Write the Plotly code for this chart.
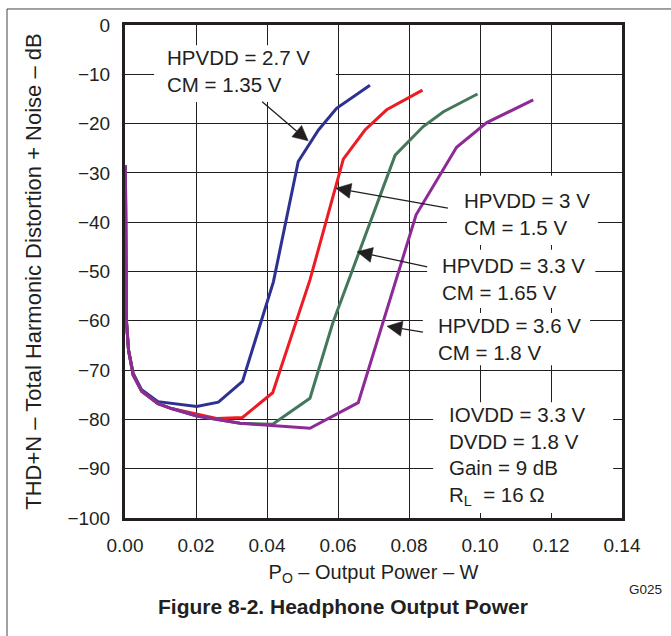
import plotly.graph_objects as go

# output power (W) and THD+N (dB)
blue_x = [0.0001, 0.0002, 0.0004, 0.001, 0.0023, 0.0047, 0.0093, 0.0202, 0.0263, 0.0331, 0.0418, 0.0488, 0.0545, 0.0596, 0.069]
blue_y = [-28.5, -50, -60, -66, -70.6, -74, -76.4, -77.4, -76.5, -72.3, -52.1, -27.7, -21.3, -16.9, -12.2]

red_x = [0.0001, 0.0002, 0.0004, 0.001, 0.0023, 0.0047, 0.0093, 0.0131, 0.0202, 0.0258, 0.0331, 0.0416, 0.0521, 0.0615, 0.0676, 0.0737, 0.0838]
red_y = [-28.5, -50, -60, -66, -71, -74.3, -76.8, -77.8, -78.9, -79.8, -79.6, -74.6, -51.7, -27.2, -21.3, -17.2, -13.2]

green_x = [0.0001, 0.0002, 0.0004, 0.001, 0.0023, 0.0047, 0.0093, 0.0131, 0.0202, 0.0324, 0.0416, 0.0521, 0.0585, 0.0761, 0.084, 0.0897, 0.0993]
green_y = [-28.5, -50, -60, -66, -71, -74.3, -76.8, -77.8, -79.3, -80.8, -81.0, -75.7, -60.5, -26.4, -20.6, -17.6, -14.0]

purple_x = [0.0001, 0.0002, 0.0004, 0.001, 0.0023, 0.0047, 0.0093, 0.0131, 0.0202, 0.0324, 0.0416, 0.0521, 0.0657, 0.082, 0.0934, 0.1019, 0.115]
purple_y = [-28.5, -50, -60, -66, -71, -74.3, -76.8, -77.8, -79.3, -80.8, -81.2, -81.8, -76.6, -38.5, -24.8, -19.8, -15.2]

x_ticks = [0.0, 0.02, 0.04, 0.06, 0.08, 0.10, 0.12, 0.14]
y_ticks = [0, -10, -20, -30, -40, -50, -60, -70, -80, -90, -100]

ink = '#231f20'
font = 'Liberation Sans, Arial, sans-serif'

fig = go.Figure()
for xs, ys, col in [(blue_x, blue_y, '#2e3192'), (red_x, red_y, '#ed1c24'),
                    (green_x, green_y, '#44785a'), (purple_x, purple_y, '#8e2a96')]:
    fig.add_trace(go.Scatter(x=xs, y=ys, mode='lines', line={'color': col, 'width': 3},
                             showlegend=False, hoverinfo='skip'))

# outer frame of the figure (only left and top edges fall inside the page)
fig.add_shape(type='rect', xref='paper', yref='paper', x0=-0.2374, x1=1.3, y0=-0.4, y1=1.0325,
              line={'color': '#444444', 'width': 1}, fillcolor='rgba(0,0,0,0)', layer='below')

# white boxes behind the labels (they break the grid like the original)
boxes = [
    (0.0082, 0.0594, -4.1, -15.6),
    (0.0907, 0.1332, -30.6, -44.6),
    (0.0851, 0.1325, -45.6, -57.4),
    (0.0839, 0.1310, -58.4, -69.0),
    (0.0868, 0.1375, -76.5, -99.0),
]
for x0, x1, y0, y1 in boxes:
    fig.add_shape(type='rect', xref='x', yref='y', x0=x0, x1=x1, y0=y0, y1=y1,
                  fillcolor='white', line={'width': 0}, layer='above')

labels = [
    (0.0113, -9.3, 'HPVDD = 2.7 V<br>CM = 1.35 V'),
    (0.0949, -38.3, 'HPVDD = 3 V<br>CM = 1.5 V'),
    (0.0887, -51.5, 'HPVDD = 3.3 V<br>CM = 1.65 V'),
    (0.0876, -63.7, 'HPVDD = 3.6 V<br>CM = 1.8 V'),
    (0.0907, -87.4, 'IOVDD = 3.3 V<br>DVDD = 1.8 V<br>Gain = 9 dB<br>R<sub>L</sub>  = 16 Ω'),
]
for x, y, t in labels:
    fig.add_annotation(x=x, y=y, xref='x', yref='y', text=t, showarrow=False,
                       xanchor='left', yanchor='middle', align='left',
                       font={'family': font, 'size': 20.5, 'color': ink})

# pointer arrows: anchored at the tip (data), tail offset in pixels (y up)
arrows = [
    (0.0516, -23.5, -46, 39),
    (0.0594, -33.1, 112, -20),
    (0.0654, -46.0, 70, -15),
    (0.0738, -61.1, 36, -6),
]
head_len, head_half = 15, 7.5
for tx, ty, dx, dy in arrows:
    n = (dx ** 2 + dy ** 2) ** 0.5
    ux, uy = dx / n, dy / n
    bx, by = ux * head_len, uy * head_len
    fig.add_shape(type='line', xref='x', yref='y', xsizemode='pixel', ysizemode='pixel',
                  xanchor=tx, yanchor=ty, x0=bx, y0=by, x1=dx, y1=dy,
                  line={'color': ink, 'width': 1.3}, layer='above')
    p1 = (bx - uy * head_half, by + ux * head_half)
    p2 = (bx + uy * head_half, by - ux * head_half)
    fig.add_shape(type='path', xref='x', yref='y', xsizemode='pixel', ysizemode='pixel',
                  xanchor=tx, yanchor=ty,
                  path=f'M 0 0 L {p1[0]:.2f} {p1[1]:.2f} L {p2[0]:.2f} {p2[1]:.2f} Z',
                  fillcolor=ink, line={'color': ink, 'width': 0.5}, layer='above')

fig.add_annotation(x=0.4386, y=-0.1805, xref='paper', yref='paper', showarrow=False,
                   text='<b>Figure 8-2. Headphone Output Power</b>',
                   font={'family': font, 'size': 21, 'color': ink}, xanchor='center', yanchor='middle')
fig.add_annotation(x=1.047, y=-0.146, xref='paper', yref='paper', showarrow=False, text='G025',
                   font={'family': font, 'size': 13.5, 'color': ink}, xanchor='center', yanchor='middle')

fig.update_layout(
    width=671,
    height=636,
    margin={'l': 125, 'r': 49, 't': 25, 'b': 118},
    plot_bgcolor='white',
    paper_bgcolor='white',
    font={'family': font, 'size': 19, 'color': ink},
    xaxis={
        'range': [0, 0.14],
        'tickvals': x_ticks,
        'tickformat': '.2f',
        'showgrid': True,
        'gridcolor': ink,
        'gridwidth': 1.3,
        'showline': True,
        'linecolor': ink,
        'linewidth': 3,
        'mirror': True,
        'zeroline': False,
        'ticks': '',
        'ticklabelstandoff': 8,
        'title': {'text': 'P<sub>O</sub> – Output Power – W', 'standoff': 11,
                  'font': {'size': 20}},
    },
    yaxis={
        'range': [-100, 0],
        'tickvals': y_ticks,
        'showgrid': True,
        'gridcolor': ink,
        'gridwidth': 1.3,
        'showline': True,
        'linecolor': ink,
        'linewidth': 3,
        'mirror': True,
        'zeroline': False,
        'ticks': '',
        'ticklabelstandoff': 8,
        'title': {'text': 'THD+N – Total Harmonic Distortion + Noise – dB', 'standoff': 20,
                  'font': {'size': 22}},
    },
)

fig.write_html('out.html', config={'displayModeBar': False},
               post_script="document.body.style.margin='0';")
